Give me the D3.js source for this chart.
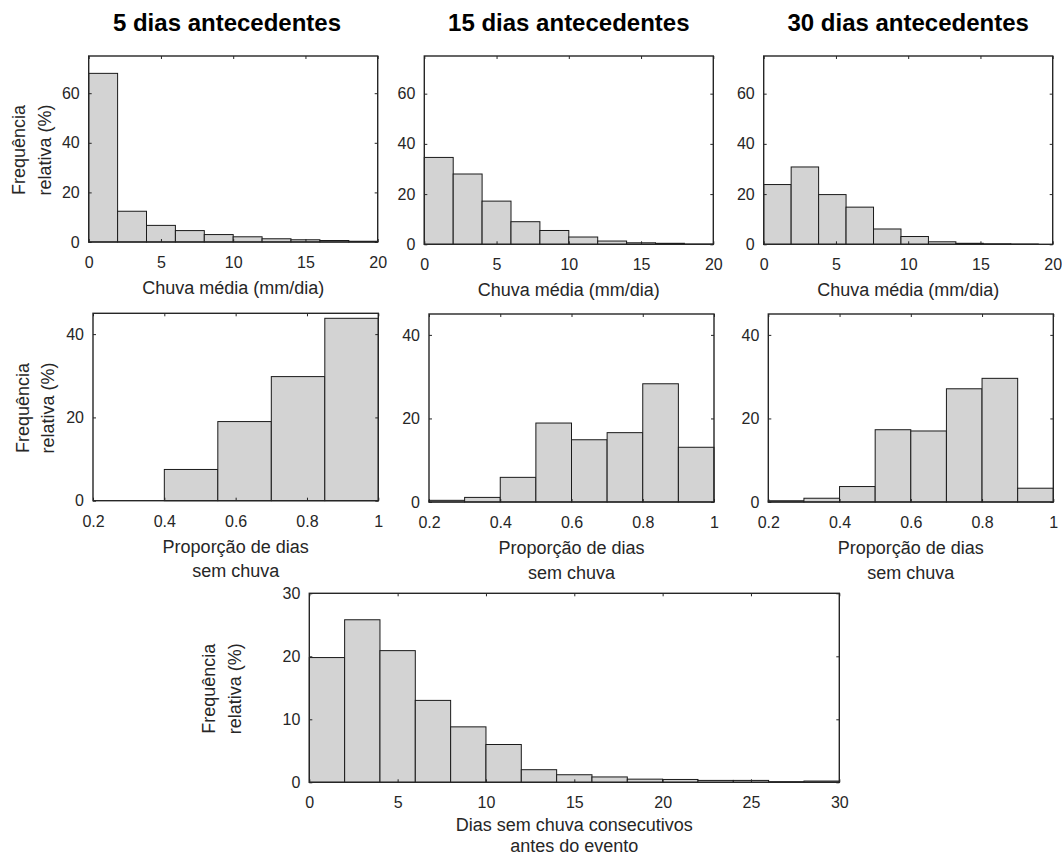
<!DOCTYPE html>
<html>
<head>
<meta charset="utf-8">
<script src="https://cdn.jsdelivr.net/npm/d3@7"></script>
<style>
  body { margin: 0; background: #fff; }
  svg { font-family: "Liberation Sans", Arial, Helvetica, sans-serif; }
</style>
</head>
<body>
<div id="chart"></div>
<script>
// column titles
const titles = ["5 dias antecedentes", "15 dias antecedentes", "30 dias antecedentes"];

// row 1 : average rain (mm/day), bins start at 0
const rainBinWidth = [2, 2, 1.9];
const rain5  = [68.0, 12.4, 6.7, 4.6, 3.0, 2.1, 1.3, 0.9, 0.6, 0.3];
const rain15 = [34.6, 28.0, 17.2, 9.0, 5.5, 2.9, 1.3, 0.6, 0.4, 0.1];
const rain30 = [23.8, 30.8, 19.8, 14.8, 6.1, 3.1, 1.0, 0.4, 0.2, 0.1];
const rainXTicks = [0, 5, 10, 15, 20];
const rainYTicks = [0, 20, 40, 60];

// row 2 : proportion of days without rain
const dryBinStart = [0.4, 0.2, 0.2];
const dryBinWidth = [0.15, 0.1, 0.1];
const dry5  = [7.5, 19.0, 29.8, 43.8];
const dry15 = [0.4, 1.1, 5.9, 18.9, 14.9, 16.6, 28.3, 13.1];
const dry30 = [0.3, 0.9, 3.7, 17.3, 17.0, 27.1, 29.6, 3.3];
const dryXTicks = [0.2, 0.4, 0.6, 0.8, 1];
const dryYTicks = [0, 20, 40];

// row 3 : consecutive dry days before the event
const consecBinWidth = 2;
const consec = [19.8, 25.8, 20.9, 13.0, 8.8, 6.0, 2.0, 1.2, 0.85, 0.5, 0.45, 0.3, 0.3, 0.1, 0.2];
const consecXTicks = [0, 5, 10, 15, 20, 25, 30];
const consecYTicks = [0, 10, 20, 30];

const width = 1062, height = 857;
const textColor = "#262626";

const svg = d3.select("#chart")
  .append("svg")
  .attr("width", width)
  .attr("height", height);

const panels = [
  {box: [88.7, 377.7, 56, 242],     start: 0, bw: rainBinWidth[0], values: rain5,  xd: [0, 20], yd: [0, 75], xt: rainXTicks, yt: rainYTicks,
   xlabel: ["Chuva média (mm/dia)"], ylabel: true, yl: [-70, -44], title: titles[0], titleX: 227},
  {box: [424.3, 713.3, 56, 244.3],  start: 0, bw: rainBinWidth[1], values: rain15, xd: [0, 20], yd: [0, 75], xt: rainXTicks, yt: rainYTicks,
   xlabel: ["Chuva média (mm/dia)"], title: titles[1]},
  {box: [763.7, 1052.7, 56, 244.3], start: 0, bw: rainBinWidth[2], values: rain30, xd: [0, 20], yd: [0, 75], xt: rainXTicks, yt: rainYTicks,
   xlabel: ["Chuva média (mm/dia)"], title: titles[2]},
  {box: [93, 378.3, 313.3, 500.7],  start: dryBinStart[0], bw: dryBinWidth[0], values: dry5,  xd: [0.2, 1], yd: [0, 45], xt: dryXTicks, yt: dryYTicks,
   xlabel: ["Proporção de dias", "sem chuva"], ylabel: true, yl: [-70, -45]},
  {box: [429, 714, 314, 502],       start: dryBinStart[1], bw: dryBinWidth[1], values: dry15, xd: [0.2, 1], yd: [0, 45], xt: dryXTicks, yt: dryYTicks,
   xlabel: ["Proporção de dias", "sem chuva"]},
  {box: [768.3, 1053.3, 314, 502],  start: dryBinStart[2], bw: dryBinWidth[2], values: dry30, xd: [0.2, 1], yd: [0, 45], xt: dryXTicks, yt: dryYTicks,
   xlabel: ["Proporção de dias", "sem chuva"]},
  {box: [309.3, 839.3, 593.3, 782.3], start: 0, bw: consecBinWidth, values: consec, xd: [0, 30], yd: [0, 30], xt: consecXTicks, yt: consecYTicks,
   xlabel: ["Dias sem chuva consecutivos", "antes do evento"], ylabel: true, yl: [-100, -74], labelOffset: 49, lineGap: 21}
];

const fmt = d3.format("~g");

panels.forEach(p => drawHist(p));

function drawHist(p){
  const [left, right, top, bottom] = p.box;
  const x = d3.scaleLinear().domain(p.xd).range([left, right]);
  const y = d3.scaleLinear().domain(p.yd).range([bottom, top]);
  const g = svg.append("g");

  // bars
  g.selectAll("rect.bar")
    .data(p.values)
    .enter()
    .append("rect")
    .attr("class", "bar")
    .attr("x", (d, i) => x(p.start + i * p.bw))
    .attr("width", (d, i) => x(p.start + (i + 1) * p.bw) - x(p.start + i * p.bw))
    .attr("y", d => y(d))
    .attr("height", d => y(0) - y(d))
    .attr("fill", "#d3d3d3")
    .attr("stroke", "#1a1a1a")
    .attr("stroke-width", 1);

  // axes, ticks pointing inward like matlab
  const bottomAxis = g.append("g")
    .attr("transform", `translate(0,${bottom})`)
    .call(d3.axisBottom(x).tickValues(p.xt).tickFormat(fmt).tickSizeInner(-3).tickSizeOuter(0).tickPadding(14.5));
  const leftAxis = g.append("g")
    .attr("transform", `translate(${left},0)`)
    .call(d3.axisLeft(y).tickValues(p.yt).tickFormat(fmt).tickSizeInner(-3).tickSizeOuter(0).tickPadding(9));
  const topAxis = g.append("g")
    .attr("transform", `translate(0,${top})`)
    .call(d3.axisTop(x).tickValues(p.xt).tickFormat("").tickSizeInner(-3).tickSizeOuter(0));
  const rightAxis = g.append("g")
    .attr("transform", `translate(${right},0)`)
    .call(d3.axisRight(y).tickValues(p.yt).tickFormat("").tickSizeInner(-3).tickSizeOuter(0));

  [bottomAxis, leftAxis, topAxis, rightAxis].forEach(a => {
    a.select(".domain").remove();
    a.selectAll("line").attr("stroke", textColor).attr("stroke-width", 1);
    a.selectAll("text")
      .attr("fill", textColor)
      .attr("font-size", 16)
      .attr("font-family", "Liberation Sans, Arial, sans-serif");
  });

  // box
  g.append("rect")
    .attr("x", left)
    .attr("y", top)
    .attr("width", right - left)
    .attr("height", bottom - top)
    .attr("fill", "none")
    .attr("stroke", textColor)
    .attr("stroke-width", 1.4);

  // x label
  const cx = (left + right) / 2;
  const off = p.labelOffset || 52;
  const gap = p.lineGap || 24.5;
  p.xlabel.forEach((line, i) => {
    g.append("text")
      .attr("x", cx)
      .attr("y", bottom + off + i * gap)
      .attr("text-anchor", "middle")
      .attr("font-size", 18)
      .attr("fill", textColor)
      .text(line);
  });

  // y label (two lines, rotated)
  if(p.ylabel){
    const cy = (top + bottom) / 2 + 1;
    ["Frequência", "relativa (%)"].forEach((line, i) => {
      g.append("text")
        .attr("transform", `translate(${left + p.yl[i]},${cy}) rotate(-90)`)
        .attr("text-anchor", "middle")
        .attr("dominant-baseline", "central")
        .attr("font-size", 18)
        .attr("fill", textColor)
        .text(line);
    });
  }

  if(p.title){
    g.append("text")
      .attr("x", p.titleX != undefined ? p.titleX : cx)
      .attr("y", 31)
      .attr("text-anchor", "middle")
      .attr("font-size", 24)
      .attr("font-weight", "bold")
      .attr("fill", "#000")
      .text(p.title);
  }
}
</script>
</body>
</html>
